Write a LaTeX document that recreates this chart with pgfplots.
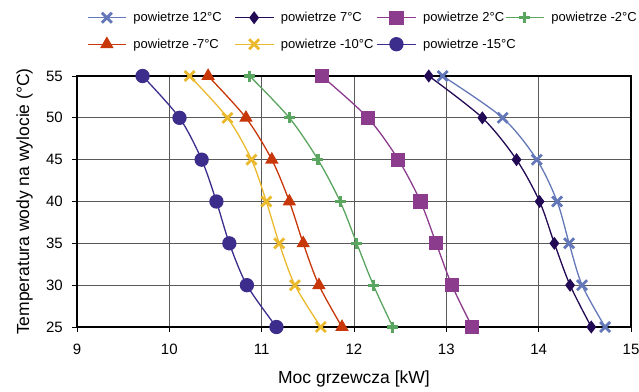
\documentclass[border=0pt]{standalone}
\usepackage{pgfplots}
\pgfplotsset{compat=1.18}
\usepackage{fontspec}
\setmainfont{Liberation Sans}
\definecolor{cA}{RGB}{100,120,185}
\definecolor{cB}{RGB}{35,10,85}
\definecolor{cC}{RGB}{140,60,140}
\definecolor{cD}{RGB}{90,165,95}
\definecolor{cE}{RGB}{200,55,10}
\definecolor{cF}{RGB}{235,185,45}
\definecolor{cG}{RGB}{60,45,140}
\pgfdeclareplotmark{bigx}{%
  \pgfsetlinewidth{2.8pt}\pgfsetbuttcap
  \pgfpathmoveto{\pgfqpoint{-\pgfplotmarksize}{-\pgfplotmarksize}}%
  \pgfpathlineto{\pgfqpoint{\pgfplotmarksize}{\pgfplotmarksize}}%
  \pgfpathmoveto{\pgfqpoint{-\pgfplotmarksize}{\pgfplotmarksize}}%
  \pgfpathlineto{\pgfqpoint{\pgfplotmarksize}{-\pgfplotmarksize}}%
  \pgfusepathqstroke}
\pgfdeclareplotmark{bigplus}{%
  \pgfsetlinewidth{3.2pt}\pgfsetbuttcap
  \pgfpathmoveto{\pgfqpoint{-\pgfplotmarksize}{0pt}}%
  \pgfpathlineto{\pgfqpoint{\pgfplotmarksize}{0pt}}%
  \pgfpathmoveto{\pgfqpoint{0pt}{\pgfplotmarksize}}%
  \pgfpathlineto{\pgfqpoint{0pt}{-\pgfplotmarksize}}%
  \pgfusepathqstroke}
\newcommand{\lt}[2]{\hspace{7pt}\makebox[#1][l]{#2}}
\begin{document}
\begin{tikzpicture}
\begin{axis}[name=ax, scale only axis, width=554pt, height=251pt,
  xmin=9, xmax=15, ymin=25, ymax=55,
  xtick={9,10,...,15}, ytick={25,30,...,55},
  grid=major, major grid style={black!65, line width=0.9pt},
  axis line style={black, line width=1.2pt},
  tick align=outside, xtick pos=left, ytick pos=left,
  tick style={black, line width=0.9pt}, major tick length=5pt,
  /pgf/number format/assume math mode=true,
  ticklabel style={font=\fontsize{15}{18}\selectfont},
  xticklabel style={inner sep=0pt, anchor=north, yshift=-12pt},
  yticklabel style={inner sep=0pt, anchor=east, xshift=-9pt},
  xlabel={Moc grzewcza [kW]},
  ylabel={Temperatura wody na wylocie (°C)},
  label style={font=\fontsize{17.5}{21}\selectfont},
  xlabel style={at={(axis description cs:0.5,0)}, anchor=north, yshift=-44pt, inner sep=0pt},
  ylabel style={at={(axis description cs:-0.0794,0.5)}, anchor=south, inner sep=0pt},
  clip mode=individual,
  legend columns=4,
  legend style={draw=none, fill=none, at={(0,1)}, anchor=north west,
    xshift=10pt, yshift=65pt, inner sep=0pt, row sep=13.5pt,
    nodes={inner sep=0pt, font=\fontsize{13}{15}\selectfont},
    /tikz/every even column/.style={column sep=0pt}},
  legend cell align=left,
  legend image code/.code={\draw[mark repeat=2, mark phase=2] plot coordinates {(0pt,0pt) (19pt,0pt) (38pt,0pt)};},
  every axis plot/.append style={line width=1.3pt, smooth},
]
\addplot[color=cA, mark=bigx, mark size=5pt] coordinates {
  (12.96,55) (13.61,50) (13.98,45) (14.20,40) (14.33,35) (14.47,30) (14.72,25)};
\addlegendentry{\lt{101pt}{powietrze 12°C}}
\addplot[color=cB, mark=diamond*, mark size=5.5pt, mark options={solid}] coordinates {
  (12.81,55) (13.39,50) (13.76,45) (14.01,40) (14.17,35) (14.34,30) (14.57,25)};
\addlegendentry{\lt{96pt}{powietrze 7°C}}
\addplot[color=cC, mark=square*, mark size=6.5pt] coordinates {
  (11.65,55) (12.15,50) (12.48,45) (12.72,40) (12.89,35) (13.06,30) (13.28,25)};
\addlegendentry{\lt{82pt}{powietrze 2°C}}
\addplot[color=cD, mark=bigplus, mark size=5.5pt] coordinates {
  (10.87,55) (11.30,50) (11.61,45) (11.85,40) (12.03,35) (12.21,30) (12.42,25)};
\addlegendentry{\lt{80pt}{powietrze -2°C}}
\addplot[color=cE, mark=triangle*, mark size=6.5pt] coordinates {
  (10.42,55) (10.83,50) (11.11,45) (11.30,40) (11.45,35) (11.62,30) (11.87,25)};
\addlegendentry{\lt{101pt}{powietrze -7°C}}
\addplot[color=cF, mark=bigx, mark size=5pt] coordinates {
  (10.22,55) (10.63,50) (10.89,45) (11.05,40) (11.19,35) (11.36,30) (11.64,25)};
\addlegendentry{\lt{96pt}{powietrze -10°C}}
\addplot[color=cG, mark=*, mark size=6.5pt] coordinates {
  (9.71,55) (10.11,50) (10.35,45) (10.51,40) (10.65,35) (10.84,30) (11.16,25)};
\addlegendentry{\lt{82pt}{powietrze -15°C}}
\end{axis}
\pgfresetboundingbox
\useasboundingbox ([xshift=-77pt,yshift=-64pt]ax.south west) rectangle ([xshift=8pt,yshift=76pt]ax.north east);
\end{tikzpicture}
\end{document}
